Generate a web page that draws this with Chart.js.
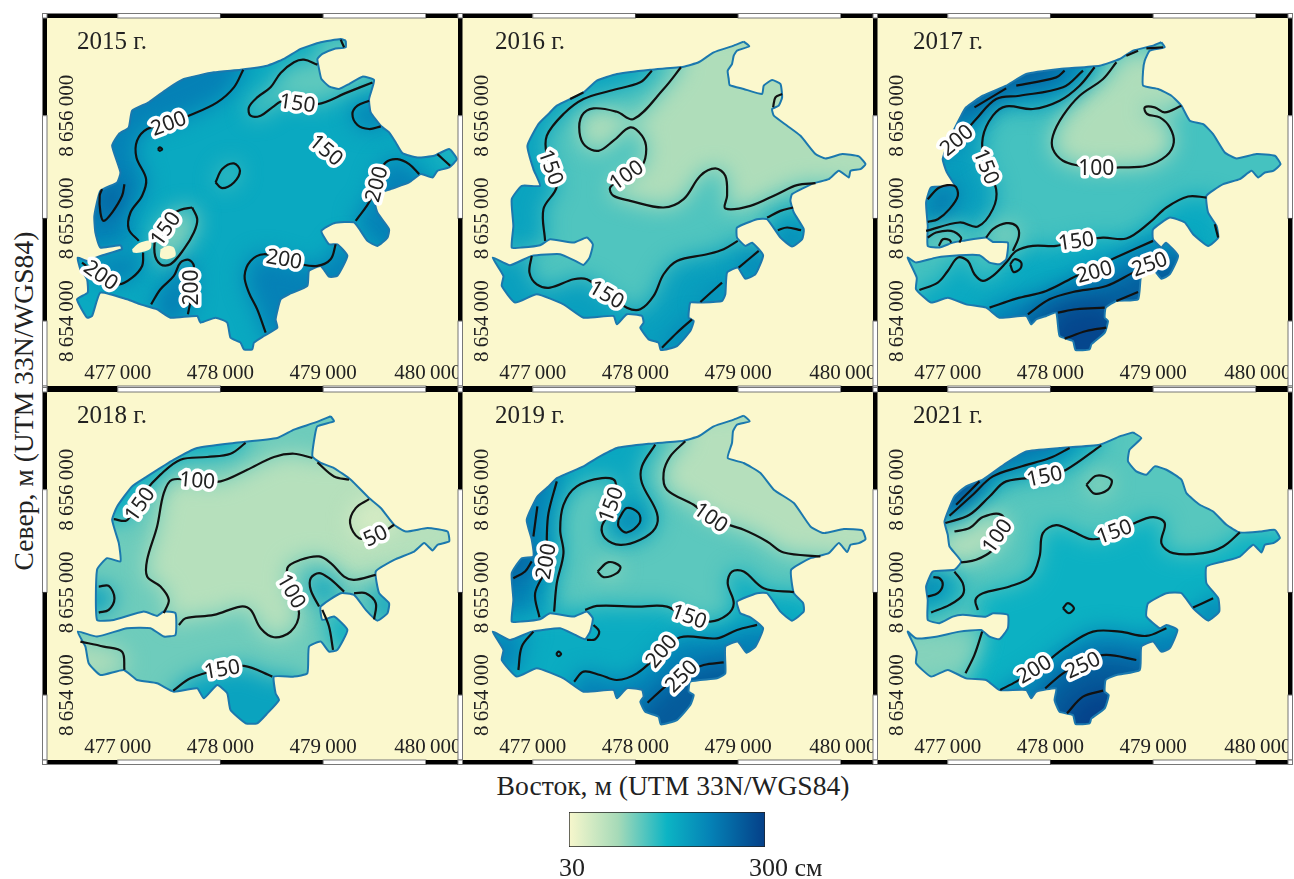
<!DOCTYPE html>
<html lang="ru"><head><meta charset="utf-8">
<script src="https://cdn.jsdelivr.net/npm/chart.js@4"></script>
<style>
html,body{margin:0;padding:0;background:#fff;width:1294px;height:879px;overflow:hidden}
canvas{position:absolute}
.t{position:absolute;font-family:"Liberation Serif",serif;font-size:27.6px;color:#222;white-space:nowrap;line-height:30px}
</style></head><body>
<div class="t" style="left:673px;top:771px;transform:translateX(-50%)">Восток, м (UTM 33N/WGS84)</div>
<div class="t" style="left:24px;top:401px;transform:translate(-50%,-50%) rotate(-90deg)">Север, м (UTM 33N/WGS84)</div>
<script>
// Coordinates below are metres: easting − 470 000, northing − 8 650 000.
const tickE=[7000,8000,9000,10000];
const tickELabels=['477\u2009000','478\u2009000','479\u2009000','480\u2009000'];
const tickN=[6000,5000,4000];
const tickNLabels=['8\u2009656\u2009000','8\u2009655\u2009000','8\u2009654\u2009000'];
const barRange=[30,300];

const lake2015=[9220,6731,9220,6666,9106,6650,8992,6601,8944,6552,8960,6455,8983,6357,9057,6286,9155,6260,9252,6308,9382,6380,9496,6347,9447,6162,9463,6032,9561,5902,9642,5837,9707,5739,9772,5635,9918,5593,10081,5610,10227,5675,10302,5577,10227,5496,10113,5463,10065,5398,9951,5431,9837,5350,9658,5285,9496,5220,9528,5057,9642,4894,9626,4813,9528,4732,9431,4781,9301,4960,9106,4953,8983,4878,9057,4748,9138,4748,9236,4635,9138,4440,9057,4433,8976,4537,8862,4488,8846,4342,8667,4261,8586,4212,8537,4017,8554,3936,8423,3855,8326,3790,8310,3725,8228,3725,8196,3790,8098,3838,8066,3985,7952,4033,7806,3985,7773,4050,7513,4033,7383,4115,7221,4163,7091,4212,6831,4277,6750,4049,6701,4033,6603,4212,6707,4277,6701,4407,6636,4504,6610,4618,6701,4586,6831,4635,7042,4700,7026,4738,6831,4716,6782,4862,6772,5025,6831,5268,6994,5350,7026,5447,6945,5707,7010,5821,7107,5886,7140,6048,7302,6130,7481,6260,7643,6357,7936,6422,8196,6448,8456,6487,8618,6552,8781,6650,8976,6715,9171,6747,9220,6731];
const holes2015=[[7140,4700,7205,4758,7319,4781,7319,4706,7221,4667,7150,4667,7140,4700],[7416,4700,7481,4732,7546,4716,7562,4635,7481,4602,7416,4618,7416,4700]];
const contours2015=[
[8222,6448,8131,6276,7968,6130,7708,6006,7481,5918,7286,5870,7188,5756,7182,5593,7276,5382,7237,5220,7124,5057,7107,4894,7205,4781],
[7390,5674,7410,5691,7432,5674,7410,5658,7390,5674],
[7952,5350,8017,5480,8131,5535,8190,5463,8131,5350,8017,5294,7952,5350],
[7065,5333,7042,5220,6945,5057,6863,4976,6831,5057,6824,5220,6847,5285],
[8944,6497,8813,6545,8716,6520,8586,6416,8488,6276,8358,6178,8277,6081,8293,6000,8391,6000,8505,6081,8618,6146,8944,6113,9236,6227,9480,6324],
[9447,6146,9334,6097,9285,6016,9334,5909,9447,5870,9561,5896],
[9935,5431,9837,5528,9723,5577,9610,5545,9512,5382,9463,5187,9317,4976],
[10113,5626,10237,5512],
[9171,6740,9204,6666],
[7725,5106,7774,4992,7741,4862,7644,4700,7514,4553,7416,4553,7358,4667,7384,4862,7481,5008,7611,5083,7725,5106],
[7247,4667,7237,4537,7140,4423,7010,4358,6831,4440,6652,4570],
[7325,4163,7416,4310,7546,4440,7611,4570,7692,4596,7741,4537,7735,4342,7683,4066],
[9122,4748,9073,4602,8944,4537,8781,4553,8618,4602,8423,4651,8293,4586,8235,4440,8277,4277,8358,4114,8440,3887]];
const zones2015=[[225,0,[6506,4781,6506,6812,8222,6812]],[268,3,[]],[128,4,[9756,6650,8944,6812]],[138,2,[]],[112,9,[]],[228,5,[9756,6000]],[225,6,[9756,4602,10243,5187]],[150,7,[10406,5675,10146,5740]],[228,10,[]],[228,11,[7481,3887]],[225,12,[8651,3725,9431,4537,9301,4797]]];
const labels2015=[[200,7497,5918,-20],[150,8748,6113,8],[150,9025,5658,40],[200,9528,5333,-75],[150,7471,4894,-55],[200,6831,4440,35],[200,7725,4326,-90],[200,8618,4595,10]];

const lake2016=[9054,6721,9109,6676,8989,6633,8957,6584,8940,6503,8898,6438,8908,6357,8918,6298,9054,6260,9233,6211,9249,6292,9330,6347,9412,6308,9428,6178,9395,6097,9330,6065,9347,6000,9477,5902,9607,5804,9753,5626,9850,5583,10013,5626,10175,5603,10240,5528,10192,5480,10094,5463,10078,5398,9980,5463,9883,5382,9737,5343,9525,5236,9509,5171,9542,5057,9639,4894,9623,4797,9525,4726,9412,4813,9282,4992,9184,4992,8989,4911,8989,4813,9070,4732,9135,4764,9243,4641,9168,4456,9070,4413,8996,4521,8892,4472,8875,4261,8843,4196,8632,4180,8534,4180,8518,4033,8567,4001,8534,3903,8404,3757,8248,3718,8225,3790,8128,3822,8047,3936,8079,3985,8063,4050,7916,4066,7819,3968,7786,4050,7494,4033,7299,4163,7039,4261,6828,4180,6698,4342,6714,4440,6610,4618,6779,4544,6990,4635,7267,4651,7413,4586,7494,4547,7553,4618,7585,4748,7527,4813,7397,4764,7169,4797,7071,4738,6893,4716,6795,4716,6811,4927,6795,5187,6893,5317,7071,5317,7006,5480,6948,5707,7055,5918,7153,6016,7234,6097,7494,6227,7624,6341,7819,6406,8144,6448,8469,6477,8615,6520,8762,6617,8957,6682,9054,6721];
const contours2016=[
[8160,6438,8047,6325,7754,6243,7494,6162,7299,6016,7137,5805,7137,5610,7234,5317,7104,5090,7120,4781],
[8443,6471,8274,6260,7982,5967,7819,6038,7592,6071,7478,6000,7455,5837,7510,5707,7640,5658,7786,5756,7949,5886,8063,5805,8105,5674,8063,5512,7916,5415,7754,5301,7786,5220,7949,5171,8274,5106,8469,5187,8632,5415,8778,5486,8875,5415,8892,5220,8875,5096,9119,5122,9379,5236,9574,5324,9753,5343],
[6990,4635,6968,4472,7039,4358,7169,4326,7397,4407,7527,4407,7705,4277,7916,4131,8047,4115,8177,4245,8274,4456,8404,4586,8697,4651,8859,4700,8996,4781],
[9282,5008,9412,5073,9535,5106],
[9386,4885,9477,4911,9613,4885],
[9005,4521,9200,4683],
[8632,4186,8843,4375],
[8258,3741,8404,3887,8550,4017],
[9428,6211,9363,6178,9340,6081],
[7364,6162,7494,6227]];
const zones2016=[[90,1,[10744,5343,10744,6812,8443,6812]],[185,0,[6681,4732,6681,6650,8160,6650]],[190,2,[9444,4537,9119,3562,6519,3562,6519,4635]],[185,3,[9769,5025,9704,4602,9282,4667]],[215,4,[9704,4667,9379,4667]],[220,5,[9314,4537,9119,4342]],[215,6,[8924,4212,8664,4115]],[225,7,[8664,3887,8274,3660]]];
const labels2016=[[150,7169,5496,70],[100,7916,5415,-35],[150,7715,4251,30]];

const lake2017=[9080,6715,9113,6666,8967,6633,8918,6536,8902,6438,8902,6292,9048,6260,9178,6194,9275,6097,9357,5951,9487,5918,9584,5821,9698,5642,9812,5583,10006,5626,10185,5610,10240,5528,10169,5463,10088,5447,10023,5398,9958,5463,9844,5382,9682,5333,9519,5220,9535,5057,9617,4927,9633,4813,9535,4732,9389,4846,9308,4960,9162,5008,8999,4894,8999,4797,9080,4716,9123,4764,9243,4634,9162,4456,9080,4413,8999,4505,8885,4456,8853,4212,8642,4196,8538,4131,8528,4033,8560,4001,8528,3887,8398,3773,8382,3725,8245,3718,8219,3806,8089,3855,8056,4082,7959,4050,7861,4017,7813,3968,7764,4050,7504,4033,7374,4131,7179,4163,7000,4228,6838,4180,6691,4310,6698,4423,6610,4618,6691,4570,6886,4618,7114,4641,7309,4641,7407,4570,7504,4553,7569,4602,7585,4764,7439,4771,7374,4813,7146,4781,7049,4764,6919,4716,6805,4732,6805,4927,6789,5154,6838,5301,7065,5317,6991,5447,6951,5577,7017,5772,7130,6000,7179,6081,7341,6194,7569,6292,7764,6406,8089,6455,8479,6487,8674,6552,8804,6633,8999,6682,9080,6715];
const contours2017=[
[8642,6520,8512,6357,8284,6194,8122,6000,8024,5805,8024,5674,8122,5561,8284,5512,8447,5486,8674,5496,8934,5512,9129,5610,9201,5740,9162,5886,9064,5983,8941,6016,8918,6081,9015,6081,9113,6032,9275,6097],
[8430,6471,8284,6292,8089,6146,7829,6065,7569,6091,7439,6000,7341,5788,7358,5545,7471,5284,7439,5090,7293,4921,7114,4960,6789,4878],
[8317,6438,8122,6276,7699,6194,7472,6162,7277,5967,7082,5740,6968,5626],
[8138,6438,8056,6373,7667,6292],
[7569,6266,7260,6081],
[6805,5187,6919,5301,7065,5317,7098,5220,7016,5090,6903,4992,6805,4966],
[6805,4813,6886,4862,7033,4878,7130,4813,7114,4764],
[6913,4732,6952,4797,7017,4790,7033,4764],
[9519,5203,9340,5213,9129,5106,8967,4960,8739,4804,8512,4813,8251,4781,8056,4732,7829,4732,7667,4683,7569,4570,7439,4440,7341,4391,7260,4456,7195,4586,7098,4618,7000,4488,6903,4375,6724,4303],
[7374,4813,7439,4895,7569,4953,7667,4927,7693,4830,7634,4683],
[7608,4553,7650,4602,7715,4570,7706,4511,7640,4479,7608,4553],
[7407,4131,7667,4219,7959,4293,8251,4440,8674,4635,8999,4781],
[7780,4066,7991,4212,8219,4283,8544,4342,8804,4472,9064,4602],
[8073,4082,8251,4115,8528,4131],
[8138,3829,8349,3903,8544,3936],
[8642,4196,8853,4283],
[9600,4943,9633,4813],
[8739,6584,8853,6633],
[8934,6656,9097,6666]];
const zones2017=[[90,0,[9389,6487,8739,6650]],[190,1,[6464,4878,6464,6812,8430,6812]],[225,2,[6626,5577,6626,6812,8317,6812]],[265,3,[7439,6194,7146,6016,7049,6162,7764,6650]],[240,5,[]],[112,6,[6789,4716]],[178,8,[6464,3562,10039,3562,9714,4862,9649,5187]],[110,9,[]],[225,11,[9389,4667,9389,3562,7114,3562]],[265,12,[9389,4537,9389,3562,7439,3562]],[292,13,[8674,3887,8739,3562,7926,3562]]];
const labels2017=[[200,7091,5756,-40],[150,7368,5502,68],[100,8447,5480,0],[150,8251,4771,-8],[200,8430,4472,-15],[250,8967,4547,-20]];

const lake2018=[9074,6715,9106,6666,8944,6617,8918,6520,8895,6325,8976,6260,9106,6211,9269,6097,9447,5918,9561,5821,9691,5658,9805,5593,10016,5626,10211,5593,10227,5496,10113,5463,10065,5408,9984,5480,9886,5398,9691,5317,9512,5203,9545,4992,9642,4894,9626,4797,9528,4725,9415,4830,9301,4976,9171,4992,8976,4862,8992,4732,9106,4765,9236,4635,9138,4440,9057,4423,8976,4521,8862,4472,8846,4212,8716,4180,8521,4180,8537,4017,8570,3952,8456,3822,8358,3725,8245,3725,8098,3855,8066,4017,7968,4098,7838,3968,7773,4066,7546,4033,7383,4115,7188,4147,7058,4245,6831,4196,6717,4310,6685,4472,6610,4618,6798,4570,7091,4651,7319,4651,7448,4570,7562,4586,7562,4797,7448,4813,7383,4771,7253,4813,6961,4732,6798,4732,6798,5220,6896,5333,7026,5301,7010,5480,6945,5707,6994,5837,7140,6032,7286,6129,7546,6292,7773,6406,8131,6455,8553,6503,8716,6585,8911,6650,9074,6715];
const contours2018=[
[7448,4797,7497,4927,7416,5057,7286,5154,7286,5317,7383,5642,7448,5967,7530,6097,7773,6081,8001,6081,8261,6194,8521,6318,8716,6350,8895,6308],
[7595,4683,7660,4748,7936,4781,8196,4862,8293,4830,8391,4651,8521,4563,8683,4618,8765,4797,8683,4992,8651,5236,8781,5317,8960,5350,9074,5285,9204,5154,9301,5122,9512,5171],
[8245,6455,8098,6350,7871,6318,7611,6292,7416,6146,7253,5967,7156,5804,7085,5700,6961,5713],
[9447,5908,9317,5821,9262,5675,9350,5528,9512,5544,9691,5658],
[6815,5057,6912,5063,6968,4943,6912,4830,6815,4803],
[8944,6266,9106,6129,9252,6097],
[8960,4862,8879,5024,8879,5138,8960,5187,9057,5138,9204,5008],
[9301,4992,9415,4992,9512,4895,9496,4738],
[8992,4830,9057,4667,9096,4440],
[6636,4521,6863,4472,7042,4423,7065,4245],
[7540,4043,7708,4163,7968,4244,8228,4284,8505,4180]];
const zones2018=[[84,0,[9756,6260,10406,5447,9512,5171,9301,5122,9204,5154,9074,5285,8960,5350,8781,5317,8651,5236,8683,4992,8765,4797,8683,4618,8521,4563,8391,4651,8293,4830,8196,4862,7936,4781,7660,4748,7595,4683]],[58,3,[9756,5934]],[175,2,[6506,5707,6506,6747,8245,6747]],[190,4,[6506,4797,6506,5057]],[185,6,[]],[185,7,[9756,4732,9691,5057]],[172,8,[9431,4472,9269,4797]],[92,9,[6506,4147,6506,4602]],[185,10,[8781,4147,8618,3562,7481,3562]]];
const labels2018=[[100,7773,6081,5],[150,7221,5853,-55],[50,9512,5544,-25],[100,8683,5008,60],[150,8017,4244,-10]];

const lake2019=[9054,6721,9113,6666,8989,6633,8950,6568,8940,6454,8898,6308,9054,6260,9217,6162,9347,6000,9542,5870,9704,5642,9834,5577,10029,5616,10208,5603,10240,5518,10175,5480,10094,5463,10062,5392,9980,5480,9883,5382,9704,5333,9516,5220,9542,4992,9633,4895,9639,4813,9525,4725,9412,4813,9282,4992,9184,4992,8989,4911,9021,4797,9119,4758,9243,4651,9168,4472,9080,4413,8996,4521,8875,4472,8875,4212,8794,4163,8534,4131,8518,4033,8567,4001,8534,3903,8404,3757,8248,3715,8225,3790,8095,3838,8047,3936,8079,3985,8063,4050,7916,4066,7819,3968,7786,4050,7494,4033,7299,4163,7039,4261,6844,4180,6698,4342,6714,4440,6610,4618,6779,4537,6990,4618,7267,4651,7413,4586,7510,4544,7559,4618,7585,4748,7527,4813,7397,4764,7169,4797,7071,4738,6893,4716,6795,4716,6811,4927,6795,5187,6893,5333,7006,5350,6990,5512,6941,5707,7045,5934,7153,6032,7234,6113,7494,6227,7624,6308,7819,6406,8144,6448,8469,6477,8615,6520,8762,6617,8957,6682,9054,6721];
const contours2019=[
[8485,6471,8339,6324,8274,6162,8307,6000,8567,5853,8729,5723,9054,5609,9281,5496,9444,5388,9801,5350],
[8193,6438,8063,6227,8063,6065,8209,5772,8193,5626,8047,5512,7851,5463,7705,5528,7673,5642,7786,5837,7803,6081,7673,6113,7429,6032,7299,5853,7267,5609,7299,5382,7234,5090,7208,4813],
[7835,5707,7916,5821,8030,5772,8040,5675,7916,5583,7835,5642,7835,5707],
[7631,5203,7738,5294,7852,5252,7819,5187,7689,5148,7631,5203],
[7510,4830,7624,4868,8014,4862,8307,4862,8501,4748,8729,4716,8892,4781,8957,4895,8898,5089,8940,5203,9054,5203,9249,5041,9542,5002],
[7234,6081,7153,5772,7137,5544,7137,5252,7023,4992,7065,4758],
[7045,5837,7006,5544],
[6811,5138,6925,5203,6990,5301],
[7592,4683,7647,4618,7608,4544,7527,4537],
[7228,4400,7250,4423,7276,4400,7250,4378,7228,4400],
[7006,4618,6893,4472,6860,4244],
[7403,4131,7494,4228,7656,4196,7819,4147,8014,4212,8241,4407,8437,4563,8794,4553,8989,4634,9184,4683],
[8118,3926,8307,4098,8469,4212,8664,4293,8859,4319]];
const zones2019=[[85,0,[10419,5350,10419,6747,8485,6747]],[180,1,[7208,4732,6519,4732,6519,6747,8193,6747]],[228,5,[7065,4667,6519,4667,6519,6422,7234,6422]],[260,7,[6990,5382,6681,5382,6681,5057]],[238,2,[]],[95,3,[]],[175,4,[9769,4960,9769,3497,6519,3497,6519,4797]],[222,10,[6519,4244,6519,4634]],[225,11,[9444,4634,9444,3497,7169,3497]],[268,12,[9119,4309,9119,3497,7819,3497]]];
const labels2019=[[150,7770,5853,-70],[100,8729,5723,35],[200,7137,5301,-80],[150,8518,4758,20],[200,8258,4423,-50],[250,8453,4179,-45]];

const lake2021=[8804,6558,8885,6503,8771,6390,8755,6276,8836,6178,8934,6146,9015,6227,9129,6194,9275,6097,9324,5967,9454,5853,9584,5788,9714,5658,9844,5583,10039,5593,10185,5609,10234,5528,10169,5479,10088,5463,10055,5388,9974,5463,9844,5349,9682,5301,9519,5252,9519,5089,9633,4943,9643,4813,9535,4725,9389,4846,9275,4992,9129,4992,8950,4894,8934,4765,9064,4651,9129,4683,9236,4634,9162,4456,9080,4423,8999,4521,8885,4472,8869,4244,8642,4196,8538,4147,8528,4033,8567,4001,8528,3871,8398,3773,8382,3725,8245,3718,8219,3806,8089,3838,8040,3952,8056,4066,7861,4033,7813,3968,7764,4050,7504,4050,7374,4147,7179,4163,7000,4245,6838,4180,6691,4310,6698,4423,6610,4618,6691,4553,6886,4569,7114,4618,7325,4634,7407,4569,7504,4544,7585,4651,7585,4781,7439,4797,7374,4764,7146,4781,7049,4764,6919,4700,6805,4732,6805,4927,6789,5057,6854,5203,7065,5220,7130,5301,7017,5447,7000,5561,6968,5691,7065,5934,7179,6032,7341,6097,7569,6259,7764,6373,8089,6406,8479,6438,8674,6519,8804,6558];
const contours2021=[
[7309,6081,7146,5918,7081,5853],
[8187,6406,7992,6308,7699,6221,7439,6129,7244,5951,7017,5746],
[8495,6432,8154,6194,7959,6129,7569,6081,7407,5934,7212,5756,6977,5675],
[7065,5593,7212,5626,7342,5733,7520,5756,7569,5609,7439,5414,7276,5317,7130,5291],
[8349,6048,8447,6136,8593,6097,8560,6000,8430,5961,8349,6048],
[9844,5584,9682,5447,9487,5382,9194,5382,9080,5479,9113,5674,8999,5733,8804,5668,8609,5561,8398,5518,8219,5593,8056,5655,7926,5577,7894,5349,7813,5154,7602,5057,7342,4992,7270,4927,7293,4829],
[6805,4960,6903,4992,6951,5073,6919,5138,6860,5148],
[7065,5203,7146,5089,7146,4976,7017,4878,6838,4804],
[7335,4618,7260,4391,7173,4212],
[8121,4846,8170,4895,8229,4846,8180,4797,8121,4846],
[7511,4050,7667,4131,7861,4244,8154,4472,8414,4618,8674,4618,8934,4576,9129,4651],
[7949,4066,8122,4212,8349,4342,8544,4391,8836,4342],
[8161,3822,8317,3985,8512,4043],
[9389,4852,9584,4943]];
const zones2021=[[180,2,[6626,5675,6626,6747,8495,6747]],[235,1,[6626,5746,6626,6747,8187,6747]],[285,0,[6789,6097,7114,6422]],[85,3,[6951,5284,6951,5593]],[98,4,[]],[168,5,[7293,4797,7335,4618,7260,4391,7173,4212,7114,3497,10039,3497,10364,5122,10364,5584]],[112,8,[6464,4147,6464,4667]],[178,7,[6626,4732,6626,5219]],[245,6,[6626,4960,6626,5154]],[225,10,[9551,4634,9389,3497,7276,3497]],[268,11,[9064,4277,9064,3497,7764,3497]],[295,12,[8739,3984,8739,3497,8089,3497]],[215,13,[9779,4927,9714,4602,9454,4602]]];
const labels2021=[[150,7943,6123,-12],[100,7488,5544,-55],[150,8625,5584,-20],[200,7845,4244,-30],[250,8317,4284,-25]];

const yearNames=['2015 г.','2016 г.','2017 г.','2018 г.','2019 г.','2021 г.'];
const baseValues=[178,135,140,122,130,132];
const lakes=[lake2015,lake2016,lake2017,lake2018,lake2019,lake2021];
const contours=[contours2015,contours2016,contours2017,contours2018,contours2019,contours2021];
const zones=[zones2015,zones2016,zones2017,zones2018,zones2019,zones2021];
const labels=[labels2015,labels2016,labels2017,labels2018,labels2019,labels2021];
const holes=[holes2015,[],[],[],[],[]];

const stops=[[0,[247,247,204]],[.25,[166,218,184]],[.5,[12,180,196]],[.72,[5,130,182]],[1,[5,63,136]]];
function colour(v){
  const t=Math.min(1,Math.max(0,(v-30)/270));
  for(let i=1;i<stops.length;i++){
    if(t<=stops[i][0]){
      const a=stops[i-1],b=stops[i],k=(t-a[0])/(b[0]-a[0]);
      return 'rgb('+a[1].map((c,j)=>Math.round(c+(b[1][j]-c)*k)).join(',')+')';
    }
  }
  return 'rgb(5,63,136)';
}
const pts=f=>{const r=[];for(let i=0;i<f.length;i+=2)r.push({x:f[i],y:f[i+1]});return r;};
const CREAM='#fbf8cd',SHORE='#1b78ae',SERIF='"Liberation Serif",serif';
const yearOffset=[30,33,36];

const mapPlugin={
  id:'map',
  beforeDraw(c){const a=c.chartArea,x=c.ctx;x.save();x.fillStyle=CREAM;x.fillRect(a.left,a.top,a.width,a.height);x.restore();},
  beforeDatasetDraw(c,args){
    const d=c.data.datasets[args.index];
    if(d.role!=='zone')return;
    const x=c.ctx,a=c.chartArea,lake=c.getDatasetMeta(0).dataset,el=args.meta.dataset;
    lake.updateControlPoints(a);el.updateControlPoints(a);
    x.save();
    x.beginPath();lake.path(x);x.closePath();x.clip();
    x.filter='blur(11px)';
    x.fillStyle=d.backgroundColor;
    x.beginPath();el.path(x);x.closePath();x.fill();
    x.restore();
    return false;
  },
  afterDraw(c,args,o){
    const x=c.ctx,a=c.chartArea,sx=c.scales.x,sy=c.scales.y;
    // contour labels
    x.save();
    x.font='21px "Noto Sans"';x.textAlign='center';x.textBaseline='middle';x.lineJoin='round';
    o.labels.forEach(l=>{
      x.save();
      x.translate(sx.getPixelForValue(l[1]),sy.getPixelForValue(l[2]));
      x.rotate(l[3]*Math.PI/180);
      x.strokeStyle='#fff';x.lineWidth=7;x.strokeText(String(l[0]),0,0);
      x.fillStyle='#222';x.fillText(String(l[0]),0,0);
      x.restore();
    });
    x.restore();
    // tick labels and panel title
    x.save();
    x.fillStyle='#222';x.font='21px '+SERIF;x.textBaseline='alphabetic';x.textAlign='center';
    tickE.forEach((v,i)=>x.fillText(tickELabels[i],sx.getPixelForValue(v)+(i==3?2:0),a.bottom-7));
    tickN.forEach((v,i)=>{x.save();x.translate(a.left+25.5,sy.getPixelForValue(v));x.rotate(-Math.PI/2);x.fillText(tickNLabels[i],0,0);x.restore();});
    x.textAlign='left';x.font='25px '+SERIF;
    x.fillText(o.year,a.left+o.titleX,a.top+31.4);
    x.restore();
    // fancy frame
    const w=4.5;
    const xs=[a.left,...tickE.map(v=>sx.getPixelForValue(v)),a.right];
    const ys=[a.top,...tickN.map(v=>sy.getPixelForValue(v)),a.bottom];
    x.save();x.lineWidth=1;x.strokeStyle='#777';
    const seg=(l,t,wd,h,i)=>{if(i%2){x.fillStyle='#fff';x.fillRect(l,t,wd,h);x.strokeRect(l,t,wd,h);}else{x.fillStyle='#000';x.fillRect(l,t,wd,h);}};
    for(let i=0;i<xs.length-1;i++){seg(xs[i],a.top-w,xs[i+1]-xs[i],w,i);seg(xs[i],a.bottom,xs[i+1]-xs[i],w,i);}
    for(let i=0;i<ys.length-1;i++){seg(a.left-w,ys[i],w,ys[i+1]-ys[i],i);seg(a.right,ys[i],w,ys[i+1]-ys[i],i);}
    [[a.left-w,a.top-w],[a.right,a.top-w],[a.left-w,a.bottom],[a.right,a.bottom]].forEach(p=>{x.fillStyle='#fff';x.fillRect(p[0],p[1],w,w);x.strokeRect(p[0],p[1],w,w);});
    x.restore();
  }
};

const PAD=6,W=411,H=368;
yearNames.forEach((name,i)=>{
  const col=i%3,row=Math.floor(i/3);
  const cv=document.createElement('canvas');
  const L=46.5+415.4*col,T=18+373.5*row;
  cv.width=W+2*PAD;cv.height=H+2*PAD;
  cv.style.left=(L-PAD)+'px';cv.style.top=(T-PAD)+'px';
  cv.style.width=cv.width+'px';cv.style.height=cv.height+'px';
  cv.style.zIndex=10-col;
  document.body.appendChild(cv);
  const ds=[];
  ds.push({role:'lake',data:pts(lakes[i]),backgroundColor:colour(baseValues[i]),borderWidth:0,fill:'shape',tension:.15,pointRadius:0,showLine:true});
  zones[i].forEach(z=>{
    const base=z[1]===null?[]:contours[i][z[1]];
    ds.push({role:'zone',data:pts(base.concat(z[2])),backgroundColor:colour(z[0]),borderWidth:0,tension:.35,pointRadius:0,showLine:true});
  });
  holes[i].forEach(h=>ds.push({data:pts(h),backgroundColor:CREAM,borderWidth:0,fill:'shape',tension:.3,pointRadius:0,showLine:true}));
  ds.push({data:pts(lakes[i]),borderColor:SHORE,borderWidth:2,fill:false,tension:.15,pointRadius:0,showLine:true});
  contours[i].forEach(k=>ds.push({data:pts(k),borderColor:'#111',borderWidth:2.2,fill:false,tension:.35,pointRadius:0,showLine:true}));
  // Chart.js paints lower "order" on top; keep the listing order bottom-to-top.
  ds.forEach((d,n)=>{d.order=ds.length-n;});
  new Chart(cv,{
    type:'scatter',
    data:{datasets:ds},
    plugins:[mapPlugin],
    options:{
      responsive:false,animation:false,devicePixelRatio:1,
      layout:{padding:PAD},
      elements:{line:{capBezierPoints:false}},
      scales:{
        x:{type:'linear',min:6311,max:10313,display:false},
        y:{type:'linear',min:3368,max:6951,display:false}
      },
      plugins:{legend:{display:false},tooltip:{enabled:false},
        map:{labels:labels[i],year:name,titleX:yearOffset[col]}}
    }
  });
});

// colour bar
(function(){
  const cv=document.createElement('canvas');
  cv.width=270;cv.height=74;
  cv.style.left='560px';cv.style.top='805px';cv.style.width='270px';cv.style.height='74px';
  document.body.appendChild(cv);
  new Chart(cv,{
    type:'bar',
    data:{labels:['см'],datasets:[{data:[barRange],borderColor:'#222',borderWidth:1,borderSkipped:false,barPercentage:1,categoryPercentage:1,
      backgroundColor(c){
        const a=c.chart.chartArea;if(!a)return '#0cb4c4';
        const g=c.chart.ctx.createLinearGradient(a.left,0,a.right,0);
        stops.forEach(s=>g.addColorStop(s[0],'rgb('+s[1].join(',')+')'));
        return g;
      }}]},
    plugins:[{id:'barText',afterDraw(c){
      const x=c.ctx,s=c.scales.x;
      x.save();x.font='26px '+SERIF;x.fillStyle='#222';x.textBaseline='alphabetic';
      x.textAlign='center';x.fillText(String(barRange[0]),s.getPixelForValue(barRange[0])+3,71);
      x.textAlign='left';x.fillText(barRange[1]+' см',s.getPixelForValue(barRange[1])-16,71);
      x.restore();
    }}],
    options:{indexAxis:'y',responsive:false,animation:false,devicePixelRatio:1,
      layout:{padding:{left:9,right:65,top:7,bottom:32}},
      scales:{x:{type:'linear',min:barRange[0],max:barRange[1],display:false},y:{display:false}},
      plugins:{legend:{display:false},tooltip:{enabled:false}}}
  });
})();
</script>
</body></html>
